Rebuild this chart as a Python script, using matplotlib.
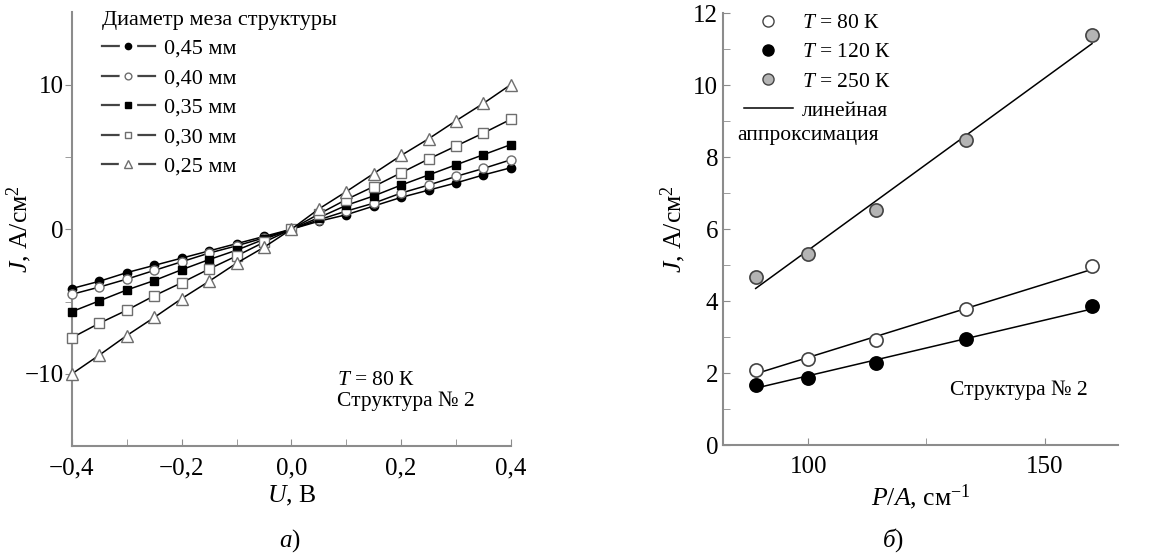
import matplotlib.pyplot as plt
from matplotlib.lines import Line2D
import numpy as np

plt.rcParams['font.family'] = ['Liberation Serif', 'DejaVu Serif']
plt.rcParams['mathtext.fontset'] = 'custom'
plt.rcParams['mathtext.it'] = 'Liberation Serif:italic'
plt.rcParams['mathtext.rm'] = 'Liberation Serif'

# --- panel a: J(U) for different mesa diameters, T = 80 K
U = [-0.4, -0.35, -0.3, -0.25, -0.2, -0.15, -0.1, -0.05, 0.0,
     0.05, 0.1, 0.15, 0.2, 0.25, 0.3, 0.35, 0.4]
J_045 = [-4.1, -3.6, -3.0, -2.5, -2.0, -1.5, -1.0, -0.5, 0,
         0.55, 1.0, 1.6, 2.2, 2.7, 3.2, 3.75, 4.25]
J_040 = [-4.5, -4.0, -3.45, -2.85, -2.25, -1.65, -1.15, -0.6, 0,
         0.65, 1.25, 1.8, 2.5, 3.05, 3.65, 4.2, 4.8]
J_035 = [-5.7, -4.95, -4.2, -3.55, -2.8, -2.1, -1.45, -0.7, 0,
         0.8, 1.65, 2.3, 3.05, 3.75, 4.45, 5.15, 5.85]
J_030 = [-7.5, -6.5, -5.6, -4.6, -3.7, -2.75, -1.85, -0.9, 0,
         1.05, 2.05, 2.95, 3.9, 4.85, 5.75, 6.65, 7.6]
J_025 = [-10.0, -8.7, -7.35, -6.1, -4.8, -3.6, -2.35, -1.25, 0,
         1.4, 2.6, 3.85, 5.1, 6.25, 7.5, 8.7, 10.0]
diam_labels = ['0,45 мм', '0,40 мм', '0,35 мм', '0,30 мм', '0,25 мм']
u_ticks = [-0.4, -0.2, 0.0, 0.2, 0.4]
u_ticklabels = ['\u22120,4', '\u22120,2', '0,0', '0,2', '0,4']
ja_ticks = [-10, 0, 10]
ja_ticklabels = ['\u221210', '0', '10']

# --- panel b: J(P/A) at three temperatures
PA = [88.9, 100.0, 114.3, 133.3, 160.0]
J_80K = [2.08, 2.38, 2.92, 3.77, 4.97]
J_120K = [1.67, 1.87, 2.28, 2.95, 3.85]
J_250K = [4.68, 5.32, 6.52, 8.47, 11.4]
# linear approximation values at the end points
PA_fit = [88.9, 160.0]
fit_80K = [1.98, 4.88]
fit_120K = [1.58, 3.78]
fit_250K = [4.35, 11.15]
temp_labels = ['$T$ = 80 К', '$T$ = 120 К', '$T$ = 250 К']

spine_col = '#8c8c8c'
edge_open = '#6e6e6e'
fs_tick = 18
fs_lab = 18.5

fig = plt.figure(figsize=(11.55, 5.57), dpi=100)
ax1 = fig.add_axes([0.0623, 0.199, 0.380, 0.779])
ax2 = fig.add_axes([0.626, 0.201, 0.342, 0.7756])

for ax in (ax1, ax2):
    for s in ('top', 'right'):
        ax.spines[s].set_visible(False)
    for s in ('left', 'bottom'):
        ax.spines[s].set_color(spine_col)
        ax.spines[s].set_linewidth(1.5)

# panel a
styles = [
    dict(marker='o', mfc='black', mec='black', ms=6),
    dict(marker='o', mfc='white', mec=edge_open, ms=6.5),
    dict(marker='s', mfc='black', mec='black', ms=6),
    dict(marker='s', mfc='white', mec=edge_open, ms=6.5),
    dict(marker='^', mfc='white', mec=edge_open, ms=8),
]
series = [J_045, J_040, J_035, J_030, J_025]
handles = []
for J, st, lab in zip(series, styles, diam_labels):
    ax1.plot(U, J, color='black', lw=1.1, mew=1.0, clip_on=False, zorder=3, **st)
    hl = Line2D([], [], color='#444444', lw=1.6)
    hgap = Line2D([], [], ls='none', marker='o', mfc='white', mec='white',
                  ms=st['ms'] * 0.75, mew=8)
    hm = Line2D([], [], ls='none', marker=st['marker'], mfc=st['mfc'], mec=st['mec'],
                ms=st['ms'] * 0.75, mew=1.0)
    handles.append((hl, hgap, hm))

ax1.set_xlim(-0.4, 0.4)
ax1.set_ylim(-15, 15)
ax1.set_xticks(u_ticks)
ax1.set_xticklabels(u_ticklabels)
ax1.set_xticks([-0.3, -0.1, 0.1, 0.3], minor=True)
ax1.set_yticks(ja_ticks)
ax1.set_yticklabels(ja_ticklabels)
ax1.set_yticks([-5, 5], minor=True)
ax1.tick_params(axis='x', which='both', direction='in', length=5, color=spine_col,
                labelsize=fs_tick, pad=8)
ax1.tick_params(axis='y', which='both', direction='out', length=5, color=spine_col,
                labelsize=fs_tick, pad=1)
ax1.set_xlabel('$U$, В', fontsize=fs_lab, labelpad=3)
ax1.set_ylabel('$J$, А/см$^2$', fontsize=fs_lab)
ax1.yaxis.set_label_coords(-0.086, 0.5)

leg1 = ax1.legend(handles=handles, labels=diam_labels, loc='upper left',
                  bbox_to_anchor=(0.022, 1.05),
                  frameon=False, fontsize=16, title='Диаметр меза структуры',
                  title_fontsize=16, handlelength=2.4, handletextpad=0.4,
                  labelspacing=0.4, numpoints=1)
leg1._legend_box.align = 'left'

ax1.text(0.605, 0.08, '$T$ = 80 К\nСтруктура № 2', transform=ax1.transAxes,
         fontsize=15.5, va='bottom', ha='left', linespacing=1.15)

# panel b
ax2.plot(PA_fit, fit_80K, color='black', lw=1.1)
ax2.plot(PA_fit, fit_120K, color='black', lw=1.1)
ax2.plot(PA_fit, fit_250K, color='black', lw=1.1)
ax2.plot(PA, J_80K, 'o', ms=9.5, mfc='white', mec='#444444', mew=1.2, zorder=3)
ax2.plot(PA, J_120K, 'o', ms=9.5, mfc='black', mec='black', mew=1.2, zorder=3)
ax2.plot(PA, J_250K, 'o', ms=9.5, mfc='#b4b4b4', mec='#444444', mew=1.2, zorder=3)

ax2.set_xlim(82, 165.5)
ax2.set_ylim(0, 12)
ax2.set_xticks([100, 150])
ax2.set_xticks([125], minor=True)
ax2.set_yticks([0, 2, 4, 6, 8, 10, 12])
ax2.set_yticks([1, 3, 5, 7, 9, 11], minor=True)
ax2.tick_params(axis='both', which='both', direction='in', length=5, color=spine_col,
                labelsize=fs_tick)
ax2.tick_params(axis='x', pad=8)
ax2.set_xlabel('$P/A$, см$^{-1}$', fontsize=fs_lab, labelpad=3)
ax2.set_ylabel('$J$, А/см$^2$', fontsize=fs_lab)
ax2.yaxis.set_label_coords(-0.088, 0.5)

h2 = [Line2D([], [], ls='none', marker='o', ms=8, mfc='white', mec='#444444', label=temp_labels[0]),
      Line2D([], [], ls='none', marker='o', ms=8, mfc='black', mec='black', label=temp_labels[1]),
      Line2D([], [], ls='none', marker='o', ms=8, mfc='#b4b4b4', mec='#444444', label=temp_labels[2]),
      Line2D([], [], color='black', lw=1.1, label='линейная')]
ax2.legend(handles=h2, loc='upper left', bbox_to_anchor=(0.003, 1.045), frameon=False,
           fontsize=15.5, handlelength=2.3, handletextpad=0.4, labelspacing=0.43,
           numpoints=1)
ax2.text(0.035, 0.716, 'аппроксимация', transform=ax2.transAxes, fontsize=15.5,
         va='center', ha='left')
ax2.text(0.575, 0.105, 'Структура № 2', transform=ax2.transAxes, fontsize=15.5,
         va='bottom', ha='left')

# captions
fig.text(0.251, 0.03, '$a$)', fontsize=18, ha='center', va='center')
fig.text(0.773, 0.03, '$б$)', fontsize=18, ha='center', va='center')

plt.savefig('out.png', dpi=100)
